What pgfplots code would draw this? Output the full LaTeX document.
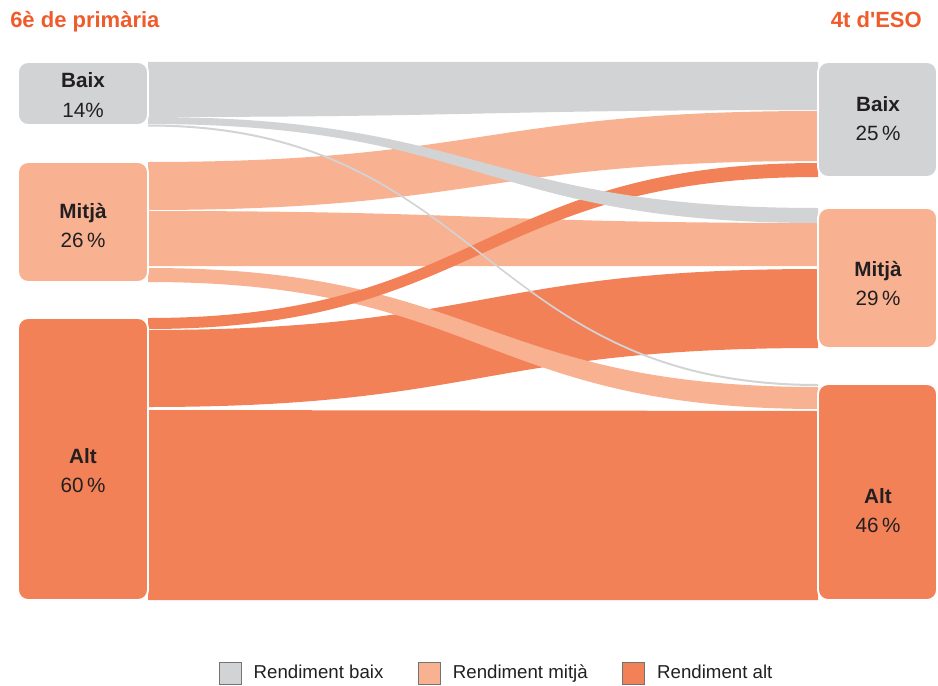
\documentclass[border=0pt]{standalone}
\usepackage{pgfplots}
\pgfplotsset{compat=1.18}
\usepackage{fontspec}
\setmainfont{Liberation Sans}
\definecolor{cbaix}{HTML}{D1D3D4}
\definecolor{cmitja}{HTML}{F8B292}
\definecolor{calt}{HTML}{F38157}
\definecolor{ctitle}{HTML}{EF5B2B}
\definecolor{ctext}{HTML}{231F20}

% flow: colour, left top, left bottom, right top, right bottom (in axis units)
\newcommand\flow[5]{%
  \fill[#1] (axis cs:148,#2) .. controls (axis cs:483,#2) and (axis cs:483,#4) .. (axis cs:818,#4)
    -- (axis cs:818,#5) .. controls (axis cs:483,#5) and (axis cs:483,#3) .. (axis cs:148,#3) -- cycle;}
% node box: colour, x0, y0, x1, y1
\newcommand\sknode[5]{%
  \filldraw[fill=#1, draw=white, line width=1.4pt, rounded corners=7.5pt] (axis cs:#2,#3) rectangle (axis cs:#4,#5);}
\newcommand\lab[4]{%
  \node[anchor=base, text=ctext, font=\fontsize{15.5}{18}\selectfont\bfseries] at (axis cs:#1,#2) {#3};
  \node[anchor=base, text=ctext, font=\fontsize{15.5}{18}\selectfont] at (axis cs:#1,#2+29) {#4};}

\begin{document}
\begin{tikzpicture}
\begin{axis}[
  scale only axis, width=703.5pt, height=513.75pt,
  xmin=0, xmax=938, ymin=0, ymax=685, y dir=reverse,
  hide axis, clip=false,
  legend columns=3,
  legend style={at={(axis cs:497,673)}, anchor=center, draw=none, fill=none,
    inner sep=0pt, font=\fontsize{14}{16}\selectfont, text=ctext,
    /tikz/every even column/.append style={column sep=24pt},
    /tikz/every odd column/.append style={column sep=7pt}},
  legend image code/.code={\draw[#1, draw=black!55, line width=0.6pt] (0pt,-8.25pt) rectangle (16.5pt,8.25pt);},
]
\path (axis cs:0,0) rectangle (axis cs:938,685);

% flows, largest first (smaller ones drawn on top)
\flow{calt}{410}{600}{411}{600}     % Alt -> Alt
\flow{calt}{330}{407}{269}{348}     % Alt -> Mitja
\flow{cmitja}{211}{266}{223}{266}   % Mitja -> Mitja
\flow{cbaix}{62}{117}{62}{110}      % Baix -> Baix
\flow{cmitja}{162}{210}{111}{161}   % Mitja -> Baix
\flow{cmitja}{268}{282}{387}{409}   % Mitja -> Alt
\flow{calt}{318}{329}{163}{177}     % Alt -> Baix
\flow{cbaix}{117}{124}{208}{223}    % Baix -> Mitja
\flow{cbaix}{124.5}{126.5}{384}{386}% Baix -> Alt

% nodes
\sknode{cbaix}{18}{62}{148}{125}
\sknode{cmitja}{18}{162}{148}{282}
\sknode{calt}{18}{318}{148}{600}
\sknode{cbaix}{818}{62}{937}{177}
\sknode{cmitja}{818}{208}{937}{348}
\sknode{calt}{818}{384}{937}{600}

\lab{83}{88}{Baix}{14\%}
\lab{83}{218}{Mitjà}{26\,\%}
\lab{83}{463}{Alt}{60\,\%}
\lab{878}{111}{Baix}{25\,\%}
\lab{878}{276}{Mitjà}{29\,\%}
\lab{878}{503}{Alt}{46\,\%}

\node[anchor=base west, text=ctitle, font=\fontsize{16.5}{19}\selectfont\bfseries, inner sep=0pt] at (axis cs:10,28) {6è de primària};
\node[anchor=base east, text=ctitle, font=\fontsize{16.5}{19}\selectfont\bfseries, inner sep=0pt] at (axis cs:922,28) {4t d\textquotesingle ESO};

\addlegendimage{fill=cbaix}
\addlegendentry{Rendiment baix}
\addlegendimage{fill=cmitja}
\addlegendentry{Rendiment mitjà}
\addlegendimage{fill=calt}
\addlegendentry{Rendiment alt}
\end{axis}
\end{tikzpicture}
\end{document}
